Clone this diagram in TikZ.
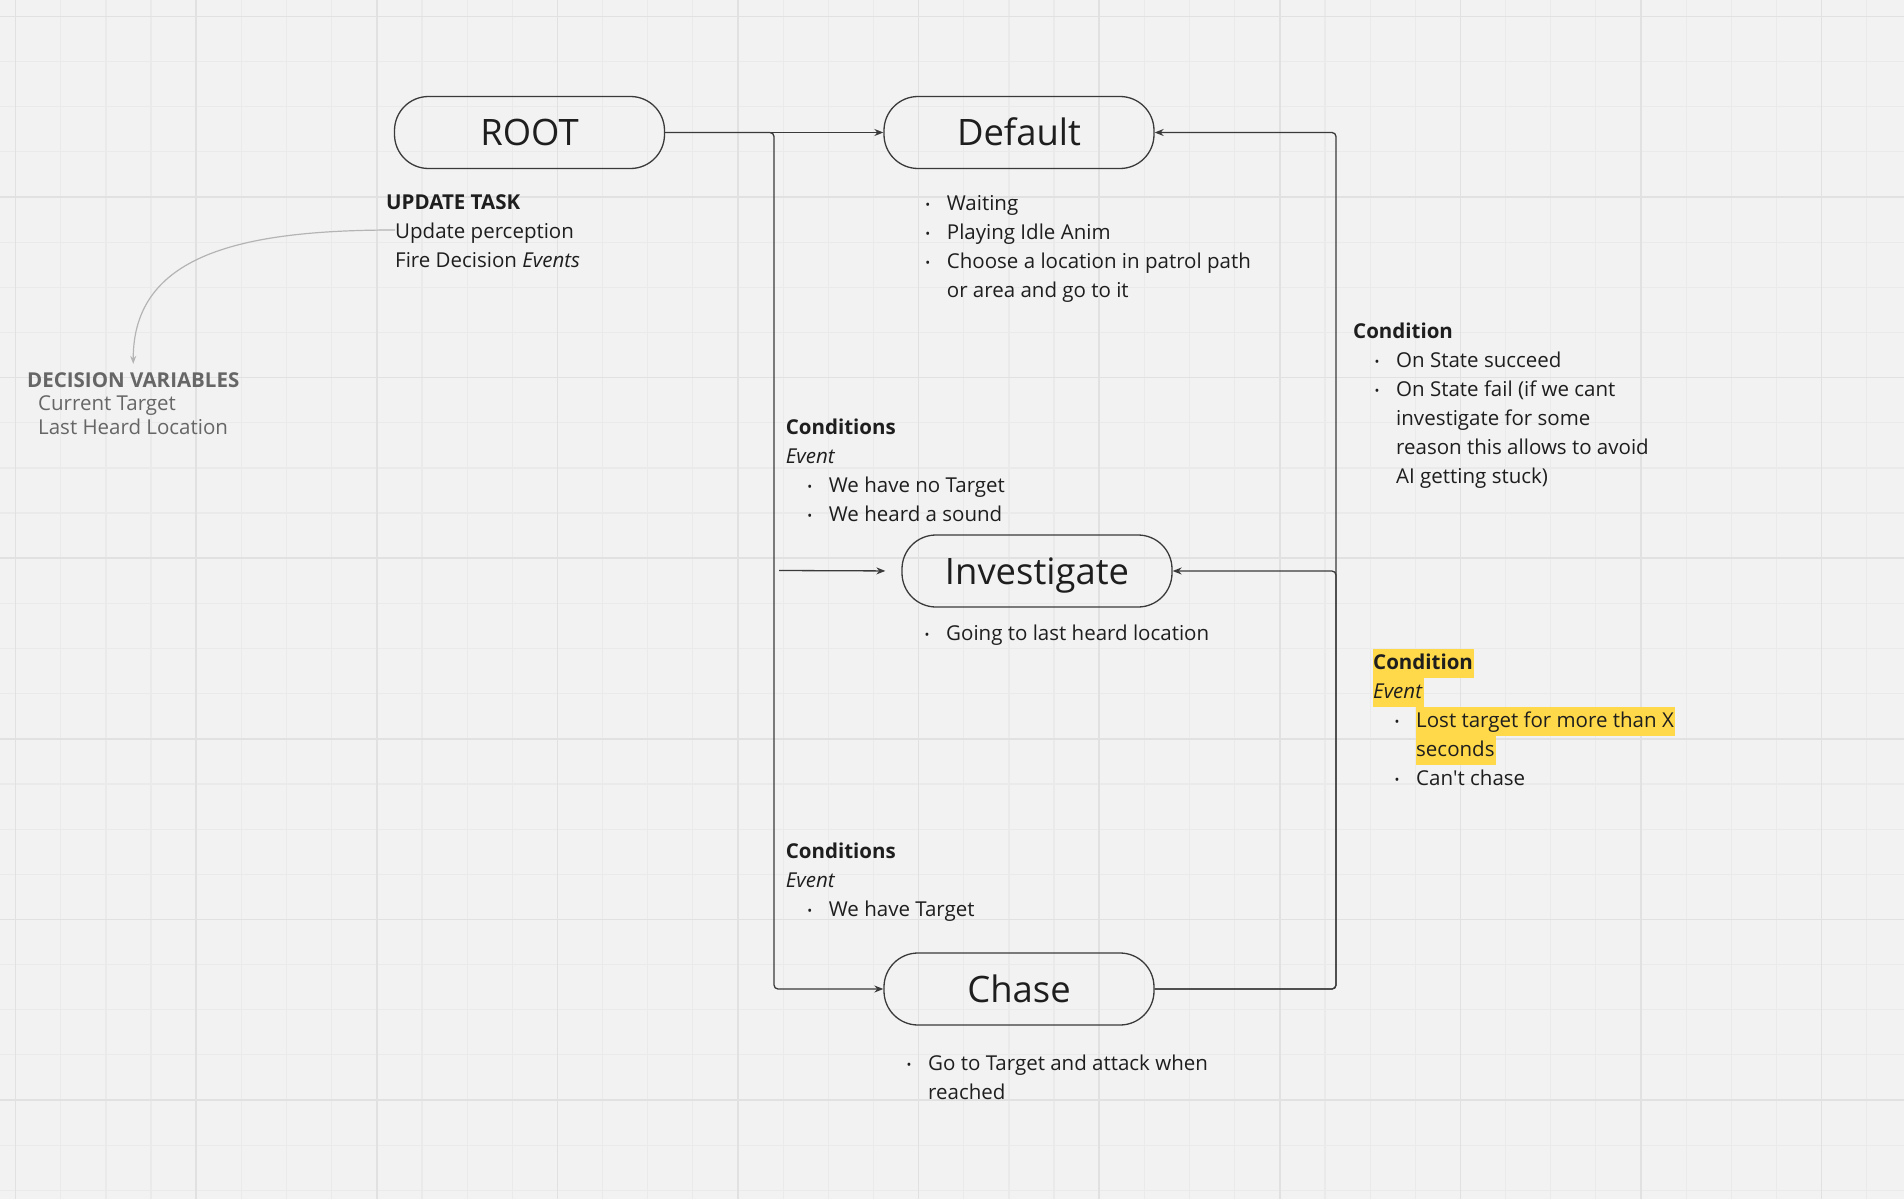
\documentclass[tikz,border=0pt]{standalone}
\usepackage{fontspec}
\setmainfont{Open Sans}
\usetikzlibrary{arrows.meta}
\definecolor{paper}{RGB}{242, 242, 242}
\definecolor{gridminor}{RGB}{234, 234, 234}
\definecolor{gridmajor}{RGB}{225, 225, 225}
\definecolor{wire}{RGB}{58, 58, 58}
\definecolor{ink}{RGB}{30, 30, 30}
\definecolor{faded}{RGB}{102, 102, 102}
\definecolor{soft}{RGB}{180, 180, 180}
\definecolor{marker}{RGB}{255, 217, 74}

\newcommand{\bul}{\makebox[21.5pt][l]{\fontsize{13}{13}\selectfont\raisebox{1pt}{•}}}
\newcommand{\marked}[1]{{\setlength{\fboxsep}{0pt}\colorbox{marker}{\strut#1\hspace{1.5pt}}}}
\newcommand{\lines}[1]{\begin{tabular}[t]{@{}l@{}}#1\end{tabular}}

\tikzset{
  state/.style={draw=wire, line width=1.3pt, rounded corners=34pt, minimum width=270pt,
    minimum height=72pt, inner sep=0pt, text=ink, text height=26pt, text depth=0pt,
    font=\fontsize{36.4}{40}\selectfont},
  link/.style={draw=wire, line width=1.3pt, rounded corners=4pt, -{Stealth[length=9pt,width=7pt]}},
  note/.style={anchor=base west, inner sep=0pt, text=ink, font=\fontsize{20.5}{29}\selectfont},
}

\begin{document}
\begin{tikzpicture}[x=1pt, y=-1pt]
      % paper and grid
      \fill[paper] (0, 0) rectangle (1904, 1199);
      \useasboundingbox (0, 0) rectangle (1904, 1199);
      \begin{scope}
        \clip (0, 0) rectangle (1904, 1199);
        \foreach \i in {0,...,41}
          \draw[gridminor, line width=1.2pt] ({15.6+45.15*\i}, 0) -- ++(0, 1199);
        \foreach \j in {0,...,26}
          \draw[gridminor, line width=1.2pt] (0, {16.4+45.15*\j}) -- ++(1904, 0);
        \foreach \i in {0,...,10}
          \draw[gridmajor, line width=1.6pt] ({15.6+180.6*\i}, 0) -- ++(0, 1199);
        \foreach \j in {0,...,6}
          \draw[gridmajor, line width=1.6pt] (0, {16.4+180.6*\j}) -- ++(1904, 0);
      \end{scope}

      % states
      \node[state] (root) at (529.5, 132.5) {ROOT};
      \node[state] (default) at (1019, 132.5) {Default};
      \node[state] (inv) at (1037, 571) {Investigate};
      \node[state] (chase) at (1019, 989) {Chase};

      % notes
      \node[note] (task) at (386, 209) {\lines{\textbf{UPDATE TASK}\\
        \hspace*{9pt}Update perception\\
        \hspace*{9pt}Fire Decision \textit{Events}}};
      \node[note, text=faded, font=\fontsize{20.5}{23.5}\selectfont] (decVars) at (27, 387)
        {\lines{\textbf{DECISION VARIABLES}\\
        \hspace*{11pt}Current Target\\
        \hspace*{11pt}Last Heard Location}};
      \node[note] (defList) at (925.2, 210) {\lines{\bul Waiting\\
        \bul Playing Idle Anim\\
        \bul Choose a location in patrol path\\
        \hspace*{21.5pt}or area and go to it}};
      \node[note] (condBack) at (1353, 338) {\lines{\textbf{Condition}\\
        \hspace*{21.5pt}\bul On State succeed\\
        \hspace*{21.5pt}\bul On State fail (if we cant\\
        \hspace*{43pt}investigate for some\\
        \hspace*{43pt}reason this allows to avoid\\
        \hspace*{43pt}AI getting stuck)}};
      \node[note] (condInv) at (785.6, 434) {\lines{\textbf{Conditions}\\
        \textit{Event}\\
        \hspace*{21.6pt}\bul We have no Target\\
        \hspace*{21.6pt}\bul We heard a sound}};
      \node[note] (invList) at (924.5, 640) {\lines{\bul Going to last heard location}};
      \node[note] (condLost) at (1373, 669) {\lines{\marked{\textbf{Condition}}\\
        \marked{\textit{Event}}\\
        \hspace*{21.5pt}\bul\marked{Lost target for more than X}\\
        \hspace*{43pt}\marked{seconds}\\
        \hspace*{21.5pt}\bul Can\textquotesingle t chase}};
      \node[note] (condChase) at (785.6, 858) {\lines{\textbf{Conditions}\\
        \textit{Event}\\
        \hspace*{21.6pt}\bul We have Target}};
      \node[note] (chaseList) at (906.5, 1070) {\lines{\bul Go to Target and attack when\\
        \hspace*{21.5pt}reached}};

      % connectors
      \coordinate (trunk) at (774, 989);
      \coordinate (invIn) at (779, 570.5);
      \coordinate (backTop) at (1336, 132.5);
      \coordinate (backMid) at (1336, 571);
      \coordinate (taskIn) at (395, 230);
      \draw[link] (root) -- (default);
      \draw[link] (root.east) -| (trunk) -- (chase.west);
      \draw[link, shorten >=16pt] (invIn) -- (inv.west);
      \draw[link] (chase.east) -| (backTop) -- (default.east);
      \draw[link] (chase.east) -| (backMid) -- (inv.east);
      \draw[soft, line width=1.2pt, shorten >=6.5pt, -{Stealth[length=8pt,width=6pt]}]
        (taskIn) .. controls (240, 230) and (133, 255) .. (decVars.north);
    \end{tikzpicture}
\end{document}
